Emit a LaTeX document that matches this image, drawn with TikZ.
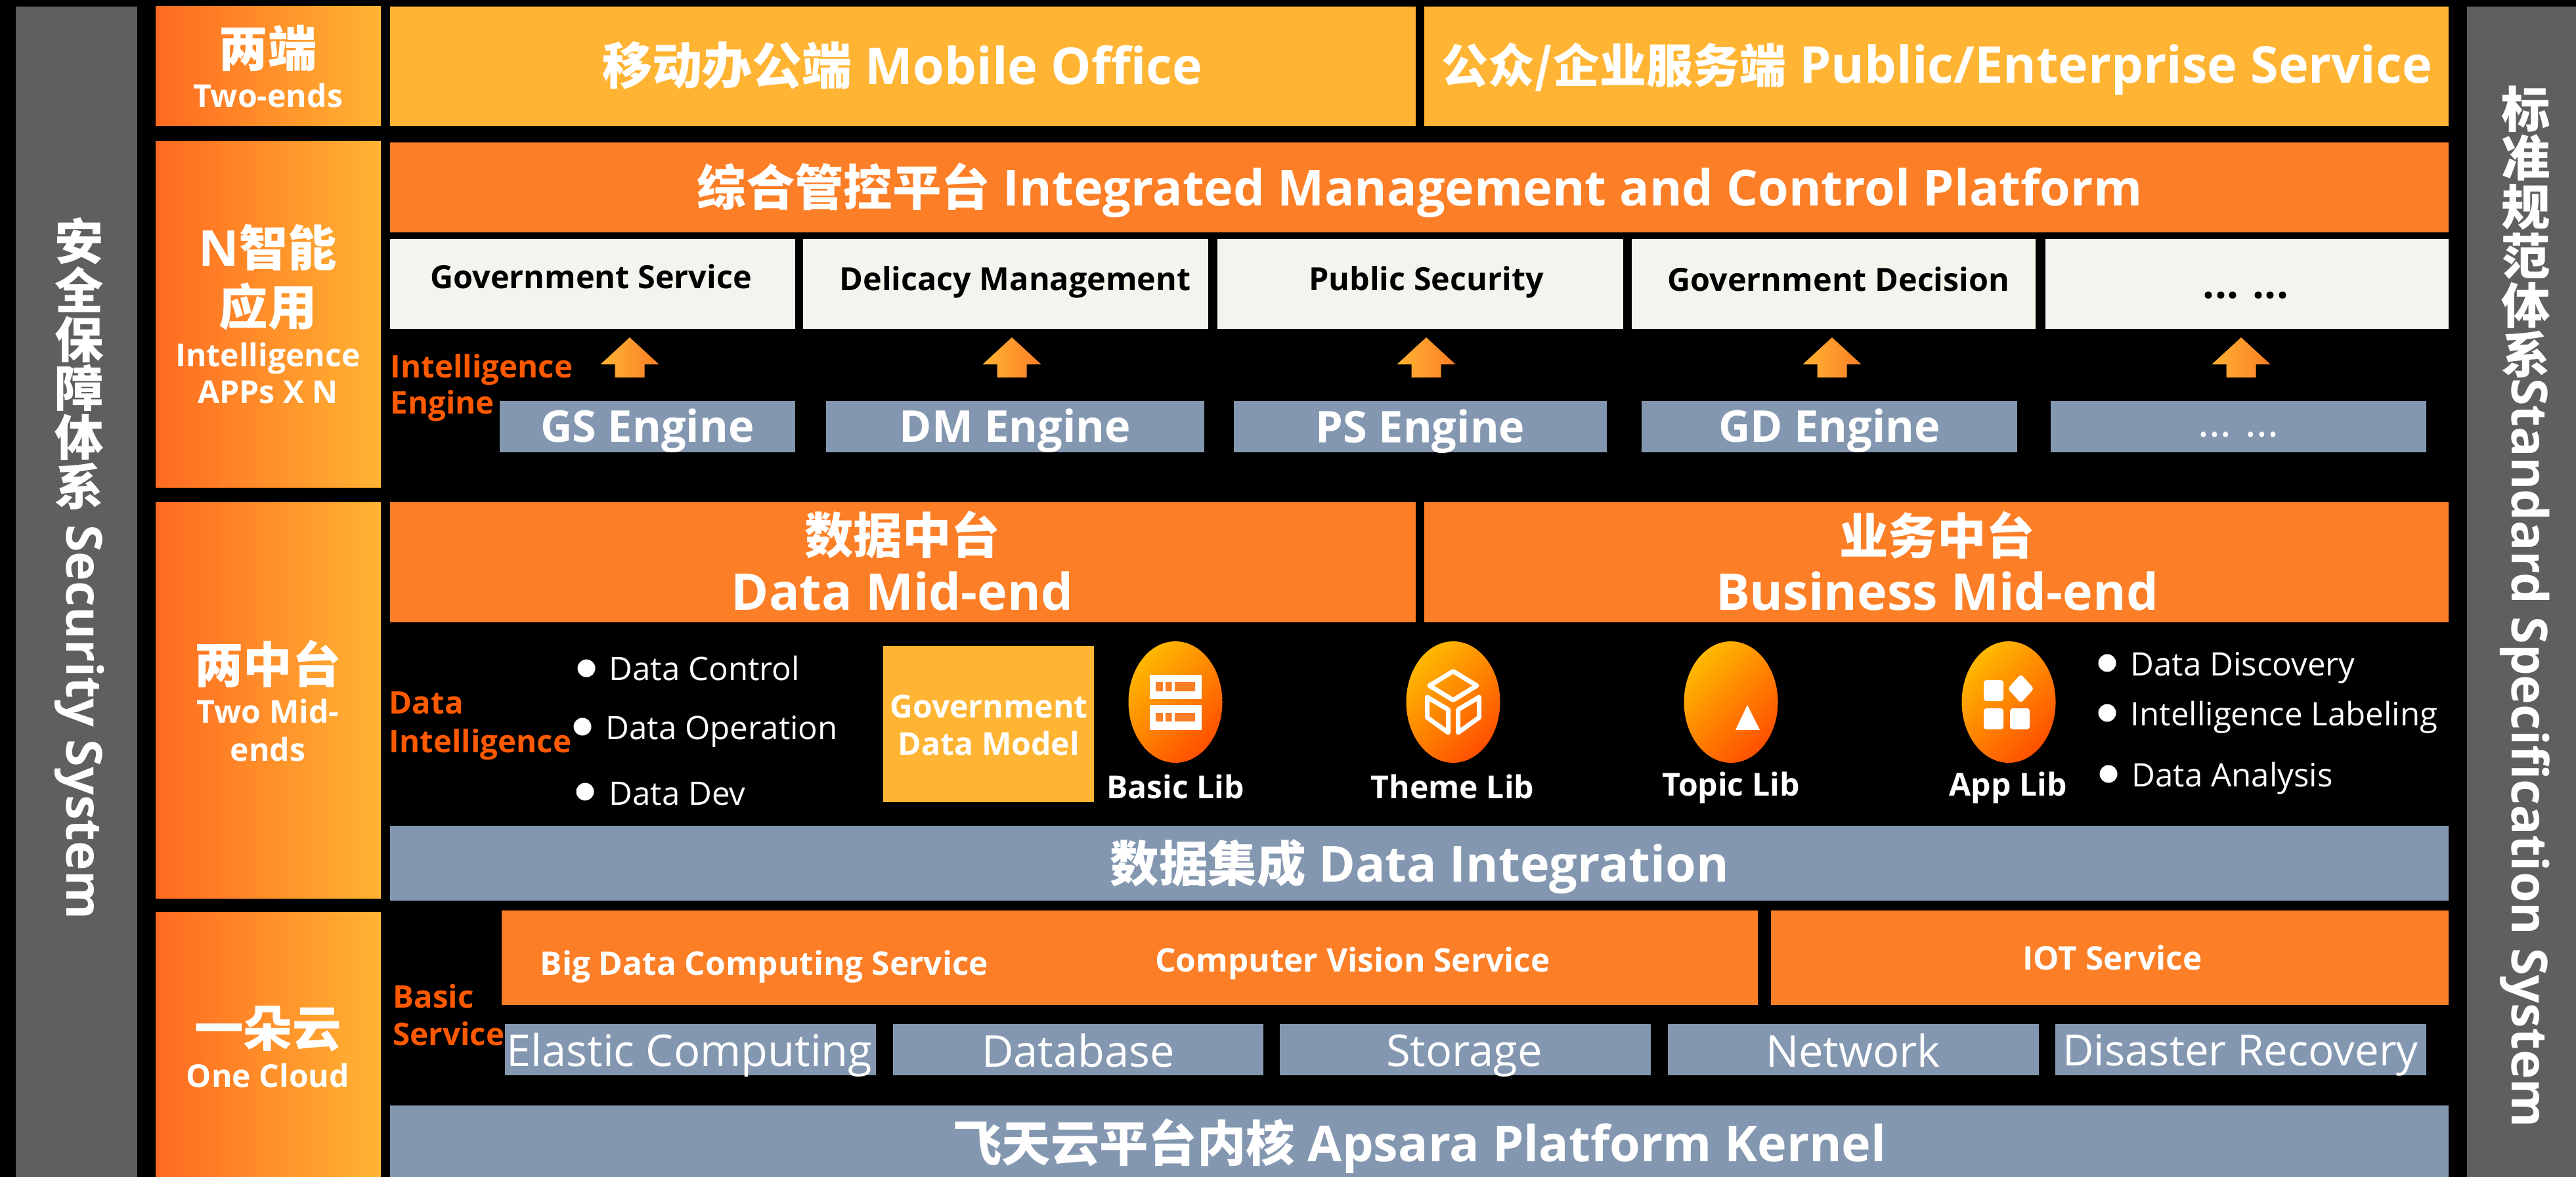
\documentclass[tikz,border=0pt]{standalone}
\usepackage{fontspec}
\setmainfont{Open Sans}
\newfontfamily\cjk{Noto Sans CJK SC}[Scale=.985]
\usetikzlibrary{shapes.geometric}
\definecolor{barorange}{HTML}{FC7E26}
\definecolor{paleorange}{HTML}{FFB433}
\definecolor{deeporange}{HTML}{FF6A20}
\definecolor{labelorange}{HTML}{FF5A00}
\definecolor{slate}{HTML}{8497B0}
\definecolor{paper}{HTML}{F4F4EE}
\definecolor{sidegrey}{HTML}{5F5F5F}
\definecolor{libtop}{HTML}{FFB800}
\definecolor{libbottom}{HTML}{FF5000}
\tikzset{
  block/.style={rectangle, inner sep=0pt, outer sep=0pt},
  sidebar/.style={block, fill=sidegrey},
  tier/.style={block, left color=deeporange, right color=paleorange},
  topbar/.style={block, fill=paleorange},
  midbar/.style={block, fill=barorange},
  appbox/.style={block, fill=paper},
  enginebox/.style={block, fill=slate},
  upshape/.style={left color=paleorange, right color=barorange},
  libshape/.style={ellipse, inner sep=0pt, outer sep=0pt, minimum width=1.43cm, minimum height=1.85cm, shading=axis, top color=libtop, bottom color=libbottom, shading angle=45},
  dot/.style={circle, fill=white, inner sep=0pt, minimum size=.27cm},
  bigtext/.style={text=white, inner sep=0pt, font=\bfseries\fontsize{21.5}{25}\selectfont},
  hugetext/.style={text=white, inner sep=0pt, font=\bfseries\fontsize{22}{25}\selectfont},
  engtext/.style={text=white, inner sep=0pt, font=\bfseries\fontsize{19}{22}\selectfont},
  thintext/.style={text=white, inner sep=0pt, font=\fontsize{19}{23}\selectfont},
  subtext/.style={text=white, inner sep=0pt, font=\bfseries\fontsize{13.7}{16}\selectfont},
  svctext/.style={text=white, inner sep=0pt, font=\bfseries\fontsize{14.1}{16}\selectfont},
  smalltext/.style={text=white, inner sep=0pt, font=\fontsize{14}{17}\selectfont},
  apptext/.style={text=black, inner sep=0pt, font=\bfseries\fontsize{13.8}{17}\selectfont},
  tagtext/.style={text=labelorange, inner sep=0pt, font=\bfseries\fontsize{13.5}{17}\selectfont},
  iconline/.style={draw=white, line width=.07cm, line join=round}
}
\begin{document}
\begin{tikzpicture}[y=-1cm]
\useasboundingbox (0,0) rectangle (39.23,17.93);
\clip (0,0) rectangle (39.23,17.93);
\fill[black] (0,0) rectangle (39.23,17.93);
\node[sidebar, minimum width=1.85cm, minimum height=17.83cm] (secbar) at (1.165,9.015){};
\node[sidebar, minimum width=1.66cm, minimum height=17.83cm] (stdbar) at (38.40,9.015){};
\node[bigtext, align=center, font=\bfseries\fontsize{21.5}{21.3}\selectfont] (sectxt) at (1.21,5.54){\cjk 安\\\cjk 全\\\cjk 保\\\cjk 障\\\cjk 体\\\cjk 系};
\node[bigtext, rotate=-90] (secsub) at (1.21,11.0){Security System};
\node[bigtext, align=center, font=\bfseries\fontsize{21.5}{21.3}\selectfont] (stdtxt) at (38.47,3.53){\cjk 标\\\cjk 准\\\cjk 规\\\cjk 范\\\cjk 体\\\cjk 系};
\node[bigtext, rotate=-90] (stdsub) at (38.45,11.47){Standard Specification System};
\node[tier, minimum width=3.43cm, minimum height=1.82cm] (tier1) at (4.085,1.01){};
\node[tier, minimum width=3.43cm, minimum height=5.26cm] (tier2) at (4.085,4.79){};
\node[tier, minimum width=3.43cm, minimum height=6.03cm] (tier3) at (4.085,10.665){};
\node[tier, minimum width=3.43cm, minimum height=4.04cm] (tier4) at (4.085,15.91){};
\node[bigtext] (tier1a) at (4.08,.73){\cjk 两端};
\node[subtext] (tier1b) at (4.08,1.45){Two-ends};
\node[bigtext] (tier2a) at (4.08,3.77){N\cjk 智能};
\node[bigtext] (tier2b) at (4.08,4.67){\cjk 应用};
\node[subtext] (tier2c) at (4.08,5.46){Intelligence};
\node[subtext] (tier2d) at (4.08,5.97){APPs X N};
\node[bigtext] (tier3a) at (4.08,10.11){\cjk 两中台};
\node[subtext] (tier3b) at (4.08,10.83){Two Mid-};
\node[subtext] (tier3c) at (4.08,11.41){ends};
\node[bigtext] (tier4a) at (4.08,15.67){\cjk 一朵云};
\node[subtext] (tier4b) at (4.08,16.38){One Cloud};
\node[topbar, minimum width=15.62cm, minimum height=1.82cm] (mobile) at (13.75,1.01){};
\node[topbar, minimum width=15.60cm, minimum height=1.82cm] (public) at (29.49,1.01){};
\node[hugetext] (mobiletxt) at (13.74,1.0){{\cjk 移动办公端} Mobile Office};
\node[hugetext] (publictxt) at (29.50,1.05){{\cjk\fontsize{20.5}{25}\selectfont 公众/企业服务端} Public/Enterprise Service};
\node[midbar, minimum width=31.35cm, minimum height=1.37cm] (platform) at (21.615,2.855){};
\node[bigtext] (platformtxt) at (21.62,2.90){{\cjk 综合管控平台} Integrated Management and Control Platform};
\node[appbox, minimum width=6.17cm, minimum height=1.37cm] (app1) at (9.025,4.325){};
\node[appbox, minimum width=6.17cm, minimum height=1.37cm] (app2) at (15.315,4.325){};
\node[appbox, minimum width=6.18cm, minimum height=1.37cm] (app3) at (21.63,4.325){};
\node[appbox, minimum width=6.15cm, minimum height=1.37cm] (app4) at (27.925,4.325){};
\node[appbox, minimum width=6.14cm, minimum height=1.37cm] (app5) at (34.22,4.325){};
\node[apptext] (app1txt) at (9.0,4.21){Government Service};
\node[apptext] (app2txt) at (15.46,4.30){Delicacy Management};
\node[apptext] (app3txt) at (21.72,4.30){Public Security};
\node[apptext] (app4txt) at (28.0,4.25){Government Decision};
\node[apptext, font=\bfseries\fontsize{18}{20}\selectfont] (app5txt) at (34.2,4.50){... ...};
\node[tagtext, anchor=west] (eng1) at (5.94,5.63){Intelligence};
\node[tagtext, anchor=west] (eng2) at (5.94,6.18){Engine};
\foreach \x in {9.59,15.41,21.72,27.90,34.13}
  \shade[upshape] (\x,5.14) -- ++(.445,.41) -- ++(-.22,0) -- ++(0,.20) -- ++(-.45,0) -- ++(0,-.20) -- ++(-.22,0) -- cycle;
\node[enginebox, minimum width=4.50cm, minimum height=.78cm] (gs) at (9.86,6.50){};
\node[enginebox, minimum width=5.76cm, minimum height=.78cm] (dm) at (15.46,6.50){};
\node[enginebox, minimum width=5.68cm, minimum height=.78cm] (ps) at (21.63,6.50){};
\node[enginebox, minimum width=5.72cm, minimum height=.78cm] (gd) at (27.86,6.50){};
\node[enginebox, minimum width=5.72cm, minimum height=.78cm] (more) at (34.09,6.50){};
\node[engtext] (gstxt) at (9.86,6.56){GS Engine};
\node[engtext] (dmtxt) at (15.46,6.56){DM Engine};
\node[engtext] (pstxt) at (21.63,6.57){PS Engine};
\node[engtext] (gdtxt) at (27.86,6.56){GD Engine};
\node[engtext, font=\fontsize{18}{20}\selectfont] (moretxt) at (34.09,6.62){... ...};
\node[midbar, minimum width=15.62cm, minimum height=1.83cm] (datamid) at (13.75,8.565){};
\node[midbar, minimum width=15.60cm, minimum height=1.83cm] (bizmid) at (29.49,8.565){};
\node[bigtext] (datamida) at (13.74,8.15){\cjk 数据中台};
\node[hugetext] (datamidb) at (13.74,9.0){Data Mid-end};
\node[bigtext] (bizmida) at (29.50,8.15){\cjk 业务中台};
\node[hugetext] (bizmidb) at (29.50,9.0){Business Mid-end};
\node[tagtext, anchor=west] (dataint1) at (5.92,10.71){Data};
\node[tagtext, anchor=west] (dataint2) at (5.92,11.34){Intelligence};
\node[dot] (ctrldot) at (8.93,10.18){};
\node[smalltext, anchor=west] (ctrl) at (9.27,10.18){Data Control};
\node[dot] (opdot) at (8.87,11.07){};
\node[smalltext, anchor=west] (op) at (9.22,11.14){Data Operation};
\node[dot] (devdot) at (8.91,12.06){};
\node[smalltext, anchor=west] (dev) at (9.27,12.09){Data Dev};
\node[topbar, minimum width=3.21cm, minimum height=2.38cm] (model) at (15.055,11.03){};
\node[subtext] (modela) at (15.06,10.76){Government};
\node[subtext] (modelb) at (15.06,11.32){Data Model};
\node[libshape] (basic) at (17.90,10.695){};
\node[libshape] (theme) at (22.13,10.695){};
\node[libshape] (topic) at (26.36,10.695){};
\node[libshape] (applib) at (30.59,10.695){};
\fill[white] (17.51,10.28) rectangle (18.30,10.65);
\fill[white] (17.51,10.74) rectangle (18.30,11.12);
\fill[barorange] (17.60,10.39) rectangle (17.71,10.53) (17.75,10.39) rectangle (17.845,10.53) (17.89,10.39) rectangle (18.20,10.53);
\fill[barorange] (17.60,10.86) rectangle (17.71,10.99) (17.75,10.86) rectangle (17.845,10.99) (17.89,10.86) rectangle (18.20,10.99);
\draw[iconline] (22.13,10.225) -- (22.49,10.445) -- (22.13,10.665) -- (21.77,10.445) -- cycle;
\draw[iconline] (21.735,10.62) -- (22.055,10.81) -- (22.055,11.16) -- (21.735,10.93) -- cycle;
\draw[iconline] (22.525,10.62) -- (22.205,10.81) -- (22.205,11.16) -- (22.525,10.93) -- cycle;
\fill[white] (26.61,10.74) -- (26.43,11.12) -- (26.80,11.12) -- cycle;
\fill[white, rounded corners=.04cm] (30.21,10.36) rectangle (30.51,10.68);
\fill[white, rounded corners=.04cm] (30.21,10.79) rectangle (30.51,11.11);
\fill[white, rounded corners=.04cm] (30.61,10.79) rectangle (30.91,11.11);
\fill[white, rounded corners=.04cm] (30.775,10.27) -- (30.975,10.49) -- (30.775,10.71) -- (30.575,10.49) -- cycle;
\node[subtext] (basictxt) at (17.90,11.98){Basic Lib};
\node[subtext] (themetxt) at (22.12,11.98){Theme Lib};
\node[subtext] (topictxt) at (26.36,12.0){Topic Lib};
\node[subtext] (applibtxt) at (30.58,12.0){App Lib};
\node[dot] (discdot) at (32.09,10.10){};
\node[smalltext, anchor=west] (disc) at (32.44,10.17){Data Discovery};
\node[dot] (labdot) at (32.09,10.86){};
\node[smalltext, anchor=west] (lab) at (32.44,10.93){Intelligence Labeling};
\node[dot] (anadot) at (32.11,11.79){};
\node[smalltext, anchor=west] (ana) at (32.46,11.86){Data Analysis};
\node[enginebox, minimum width=31.35cm, minimum height=1.14cm] (integ) at (21.615,13.15){};
\node[bigtext] (integtxt) at (21.62,13.20){{\cjk 数据集成} Data Integration};
\node[tagtext, anchor=west] (basic1) at (5.98,15.18){Basic};
\node[tagtext, anchor=west] (basic2) at (5.98,15.75){Service};
\node[midbar, minimum width=19.13cm, minimum height=1.44cm] (svc) at (17.205,14.59){};
\node[midbar, minimum width=10.32cm, minimum height=1.44cm] (iot) at (32.13,14.59){};
\node[svctext, anchor=west] (bigdata) at (8.22,14.73){Big Data Computing Service};
\node[svctext] (vision) at (20.6,14.68){Computer Vision Service};
\node[svctext] (iottxt) at (32.17,14.59){IOT Service};
\node[enginebox, minimum width=5.65cm, minimum height=.78cm] (ecs) at (10.515,15.99){};
\node[enginebox, minimum width=5.64cm, minimum height=.78cm] (db) at (16.42,15.99){};
\node[enginebox, minimum width=5.65cm, minimum height=.78cm] (store) at (22.315,15.99){};
\node[enginebox, minimum width=5.65cm, minimum height=.78cm] (net) at (28.225,15.99){};
\node[enginebox, minimum width=5.65cm, minimum height=.78cm] (drec) at (34.125,15.99){};
\node[thintext] (ecstxt) at (10.5,16.07){Elastic Computing};
\node[thintext] (dbtxt) at (16.42,16.0){Database};
\node[thintext] (storetxt) at (22.3,16.08){Storage};
\node[thintext] (nettxt) at (28.22,16.0){Network};
\node[thintext, font=\fontsize{18.6}{23}\selectfont] (drectxt) at (34.12,16.07){Disaster Recovery};
\node[enginebox, minimum width=31.35cm, minimum height=1.09cm] (kernel) at (21.615,17.385){};
\node[bigtext] (kerneltxt) at (21.62,17.46){{\cjk 飞天云平台内核} Apsara Platform Kernel};
\end{tikzpicture}
\end{document}
